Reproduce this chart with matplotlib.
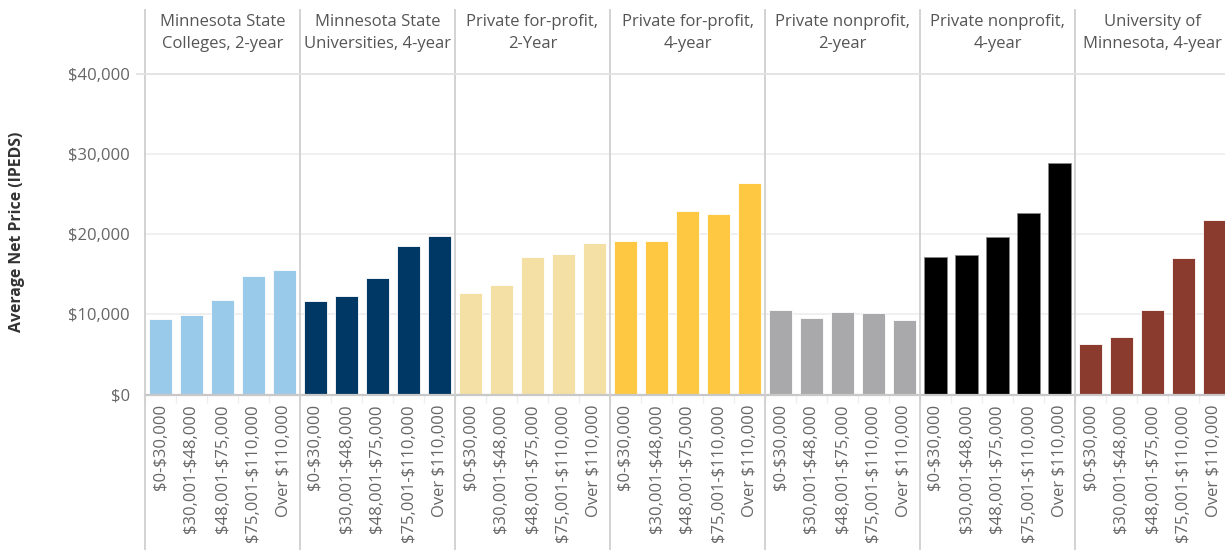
import numpy as np
import matplotlib.pyplot as plt
import matplotlib.transforms as mtransforms
from matplotlib.lines import Line2D
from matplotlib.ticker import FuncFormatter

plt.rcParams['font.family'] = ['Open Sans', 'DejaVu Sans']

# Kategorien (Spalten) und Einkommensgruppen
sectors = [
    "Minnesota State\nColleges, 2-year",
    "Minnesota State\nUniversities, 4-year",
    "Private for-profit,\n2-Year",
    "Private for-profit,\n4-year",
    "Private nonprofit,\n2-year",
    "Private nonprofit,\n4-year",
    "University of\nMinnesota, 4-year",
]
income_bands = ["$0-$30,000", "$30,001-$48,000", "$48,001-$75,000",
                "$75,001-$110,000", "Over $110,000"]

# Durchschnittlicher Nettopreis je Sektor
mnstate_colleges_2yr = [9480, 9930, 11760, 14750, 15540]
mnstate_univ_4yr = [11730, 12350, 14590, 18540, 19750]
forprofit_2yr = [12720, 13720, 17130, 17550, 18960]
forprofit_4yr = [19170, 19170, 22950, 22580, 26360]
nonprofit_2yr = [10520, 9520, 10350, 10150, 9360]
nonprofit_4yr = [17190, 17410, 19600, 22670, 28860]
umn_4yr = [6360, 7150, 10570, 17020, 21840]

sector_values = [mnstate_colleges_2yr, mnstate_univ_4yr, forprofit_2yr,
                 forprofit_4yr, nonprofit_2yr, nonprofit_4yr, umn_4yr]
sector_colors = ["#9ACAEA", "#003865", "#F4E0A4", "#FFC843",
                 "#A9A9AB", "#000000", "#8A3B2D"]

W, H = 1225, 550
fig = plt.figure(figsize=(W / 100, H / 100), dpi=100)

# Achse reicht etwas ueber den rechten Rand hinaus (letzte Spalte abgeschnitten)
left, right, top, bottom = 145, 1230, 74, 394.5
ax = fig.add_axes([left / W, 1 - bottom / H, (right - left) / W, (bottom - top) / H])

n = len(income_bands)
grid_col = "#EDEDED"
sep_col = "#CFCFCF"
text_col = "#666666"

# Balken zeichnen
for k, (vals, col) in enumerate(zip(sector_values, sector_colors)):
    x = np.arange(n) + k * n
    edge = "#888888" if col == "#000000" else "white"
    ax.bar(x, vals, width=0.77, color=col, edgecolor=edge, linewidth=0.6, zorder=3)

ax.set_xlim(-0.5, len(sectors) * n - 0.5)
ax.set_ylim(0, 40000)

# Gitterlinien
ax.set_yticks([0, 10000, 20000, 30000, 40000])
ax.yaxis.set_major_formatter(FuncFormatter(lambda v, p: "\\$" + f"{v:,.0f}"))
for yv in [10000, 20000, 30000]:
    ax.axhline(yv, color=grid_col, lw=1.2, zorder=1)

for s in ["left", "right", "top"]:
    ax.spines[s].set_visible(False)
ax.spines["bottom"].set_color("#C8C8C8")
ax.spines["bottom"].set_linewidth(1.6)
ax.spines["bottom"].set_zorder(4)

# x-Beschriftung
xpos = np.arange(len(sectors) * n)
ax.set_xticks(xpos)
ax.set_xticklabels([b.replace("$", "\\$") for b in income_bands] * len(sectors),
                   rotation=90, fontsize=12, color=text_col)
ax.tick_params(axis="x", length=0, pad=7)
ax.set_xticks(np.arange(len(sectors) * n + 1) - 0.5, minor=True)
ax.tick_params(axis="x", which="minor", length=6, color="#EEEEEE", width=1)
ax.tick_params(axis="y", length=0, pad=11, labelsize=12, labelcolor=text_col)

fig.text(17 / W, 1 - 232 / H, "Average Net Price (IPEDS)", rotation=90,
         ha="center", va="center", fontsize=11.4, fontweight="bold", color="#333333")

# Trennlinien und Kopfzeile
trans = mtransforms.blended_transform_factory(ax.transData, fig.transFigure)
for k in range(len(sectors) + 1):
    xs = k * n - 0.5
    ax.add_line(Line2D([xs, xs], [0, 1 - 10 / H], transform=trans, color=sep_col,
                       lw=1.3, clip_on=False, zorder=5))
fig.add_artist(Line2D([137 / W, 1], [1 - top / H, 1 - top / H],
                      transform=fig.transFigure, color="#E2E2E2", lw=1.3))

for k, name in enumerate(sectors):
    ax.text(k * n + (n - 1) / 2, 1 - 33 / H, name, transform=trans,
            ha="center", va="center", fontsize=12, color="#555555",
            linespacing=1.5)

fig.savefig("out.png", dpi=100)
